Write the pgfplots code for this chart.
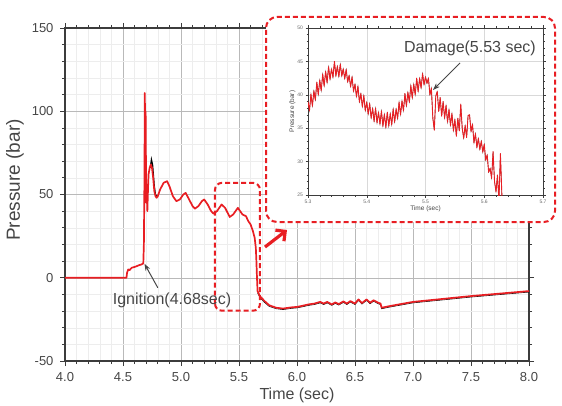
\documentclass[border=0pt]{standalone}
\usepackage{pgfplots}
\pgfplotsset{compat=1.18}
\usepackage{pgfplotstable}
\usepackage{fontspec}
\setmainfont{Liberation Sans}
\usetikzlibrary{arrows.meta}
\definecolor{cred}{RGB}{232,30,35}
\definecolor{ctxt}{RGB}{70,70,70}
\definecolor{caxis}{RGB}{60,60,60}

\pgfplotstableread{
t P
4.000 0
4.530 0
4.535 3
4.545 5
4.555 4.5
4.575 6
4.600 6.5
4.620 7
4.640 7.6
4.660 8
4.675 8.6
4.680 20
4.685 60
4.688 111
4.692 80
4.695 100
4.700 45
4.705 56
4.710 40
4.715 52
4.720 62
4.730 66
4.740 68
4.750 66
4.760 60
4.770 52
4.780 49
4.790 48
4.800 49
4.820 53
4.850 57
4.880 58
4.900 55
4.930 49
4.960 46
4.990 47
5.020 50
5.040 51
5.070 47
5.100 43
5.120 41.5
5.150 43
5.180 46
5.200 47
5.230 44
5.260 40
5.280 38.5
5.310 40
5.350 44
5.380 42
5.420 36.5
5.450 38
5.490 42
5.510 40
5.530 38
5.560 37
5.580 34
5.600 32
5.620 28
5.635 24
5.645 18
5.650 10
5.655 0
5.660 -8
5.680 -11
5.720 -14
5.760 -16.5
5.820 -18
5.880 -18.5
5.950 -17.8
6.000 -17.5
6.050 -16.8
6.100 -16
6.150 -15.5
6.200 -14.5
6.230 -15.5
6.260 -14.5
6.300 -16
6.330 -14.8
6.360 -15.8
6.400 -14.2
6.430 -15.5
6.460 -14
6.500 -15.5
6.530 -13
6.560 -15.2
6.600 -13
6.630 -15
6.660 -13.5
6.700 -15
6.720 -15.5
6.730 -18
6.800 -17
7.000 -14.5
7.500 -11
8.000 -8
}\mainTable

\pgfplotstableread{
t P
4.735 66
4.745 71
4.755 68
4.770 55
4.780 50
4.790 49
}\blackPeak

\pgfplotstableread{
t P
5.660 -9
5.680 -11.8
5.720 -14.8
5.760 -17.2
5.820 -18.6
5.880 -19.1
5.950 -18.4
6.000 -18.1
6.050 -17.4
6.100 -16.6
6.150 -16.1
6.200 -15.1
6.230 -16.1
6.260 -15.1
6.300 -16.6
6.330 -15.4
6.360 -16.4
6.400 -14.8
6.430 -16.1
6.460 -14.6
6.500 -16.1
6.530 -13.6
6.560 -15.8
6.600 -13.6
6.630 -15.6
6.660 -14.1
6.700 -15.6
6.720 -16.1
6.730 -18.6
6.800 -17.6
7.000 -15.1
7.500 -11.6
8.000 -8.6
}\blackTail

\pgfplotstableread{
t P
5.3000 39.0
5.3025 37.6
5.3050 40.1
5.3075 38.3
5.3100 40.6
5.3125 39.2
5.3150 41.9
5.3175 40.0
5.3200 42.2
5.3225 40.6
5.3250 43.1
5.3275 41.3
5.3300 43.5
5.3325 41.8
5.3350 44.2
5.3375 42.3
5.3400 43.9
5.3425 42.6
5.3450 45.0
5.3475 42.8
5.3500 44.3
5.3525 42.7
5.3550 44.6
5.3575 42.8
5.3600 43.9
5.3625 42.4
5.3650 43.8
5.3675 41.9
5.3700 42.9
5.3725 41.2
5.3750 42.7
5.3775 40.5
5.3800 41.6
5.3825 39.7
5.3850 41.3
5.3875 38.9
5.3900 40.2
5.3925 38.2
5.3950 39.9
5.3975 37.6
5.4000 38.9
5.4025 37.1
5.4050 38.7
5.4075 36.5
5.4100 38.0
5.4125 36.0
5.4150 38.0
5.4175 35.8
5.4200 37.4
5.4225 35.6
5.4250 37.6
5.4275 35.3
5.4300 37.1
5.4325 35.1
5.4350 37.4
5.4375 35.3
5.4400 37.2
5.4425 35.5
5.4450 37.9
5.4475 35.9
5.4500 37.9
5.4525 36.4
5.4550 38.9
5.4575 37.0
5.4600 39.1
5.4625 37.6
5.4650 40.2
5.4675 38.3
5.4700 40.4
5.4725 38.9
5.4750 41.4
5.4775 39.5
5.4800 41.6
5.4825 40.0
5.4850 42.5
5.4875 40.5
5.4900 42.5
5.4925 41.0
5.4950 43.2
5.4975 41.5
5.5000 42.7
5.5025 41.7
5.5050 42.5
5.5075 40.0
5.5100 41.0
5.5125 36.5
5.5150 34.7
5.5175 39.8
5.5200 40.5
5.5225 37.5
5.5250 39.6
5.5275 36.8
5.5300 39.0
5.5325 36.5
5.5350 38.4
5.5375 35.9
5.5400 37.8
5.5425 35.4
5.5450 37.2
5.5475 34.6
5.5500 36.3
5.5525 33.8
5.5550 36.5
5.5575 34.6
5.5600 38.6
5.5625 35.0
5.5650 33.5
5.5675 35.4
5.5700 33.6
5.5725 36.9
5.5750 37.0
5.5775 34.5
5.5800 35.6
5.5825 32.8
5.5850 34.2
5.5875 32.1
5.5900 33.5
5.5925 31.8
5.5950 33.1
5.5975 31.4
5.6000 32.6
5.6025 30.2
5.6050 31.0
5.6075 28.4
5.6100 29.0
5.6125 27.5
5.6150 31.5
5.6175 27.0
5.6200 25.5
5.6225 28.0
5.6250 24.0
5.6275 31.2
5.6300 25.0
5.6330 22.0
5.6400 24.5
5.6450 18
}\insetTable

\begin{document}
\begin{tikzpicture}[x=1pt,y=1pt]
\useasboundingbox (0,0) rectangle (562,405);
\begin{axis}[
  at={(65pt,44pt)}, anchor=south west,
  width=464pt, height=333pt, scale only axis,
  xmin=4, xmax=8, ymin=-50, ymax=150,
  xtick={4,4.5,...,8}, ytick={-50,0,50,100,150},
  minor x tick num=4, minor y tick num=4,
  grid=both,
  major grid style={draw=gray!55, line width=0.5pt},
  minor grid style={draw=gray!14, line width=0.4pt},
  axis line style={draw=caxis, line width=1.1pt},
  tick style={draw=caxis, line width=0.8pt},
  major tick length=5pt, minor tick length=3pt,
  tick align=outside,
  xtick pos=both, ytick pos=both,
  /pgf/number format/assume math mode=true,
  xticklabel style={/pgf/number format/.cd, fixed, fixed zerofill, precision=1},
  yticklabel style={/pgf/number format/.cd, fixed, precision=0},
  ticklabel style={font=\fontsize{13}{15}\selectfont, text=ctxt},
  xticklabel shift=3pt, yticklabel shift=3pt,
  clip=true,
]
\addplot[black, line width=0.6pt] table[x=t,y=P] {\blackTail};
\addplot[black, line width=1.2pt] table[x=t,y=P] {\blackPeak};
\addplot[cred, line width=1.7pt, line join=round] table[x=t,y=P] {\mainTable};
\draw[cred, line width=2pt, dash pattern=on 5pt off 3pt, rounded corners=7pt]
  (axis cs:5.293,-19.8) rectangle (axis cs:5.681,57);
\draw[-{Stealth[length=7pt,width=5pt]}, draw=ctxt, line width=1pt]
  (axis cs:4.80,-6) -- (axis cs:4.685,8.4);
\end{axis}
\node[rotate=90, text=ctxt, font=\fontsize{19}{21}\selectfont] at (15,225) {Pressure (bar)};
\node[text=ctxt, font=\fontsize{16}{18}\selectfont] at (297,10) {Time (sec)};
\node[text=ctxt, font=\fontsize{16}{18}\selectfont] at (172,105) {Ignition(4.68sec)};
% inset box
\draw[cred, fill=white, line width=2pt, dash pattern=on 5pt off 3pt, rounded corners=11pt]
  (266,183) rectangle (555,388);
\draw[cred, line width=3.2pt, -{Straight Barb[length=7pt,width=14pt]}] (265,158) -- (287,175);
\begin{axis}[
  at={(308pt,210pt)}, anchor=south west,
  width=235pt, height=167pt, scale only axis,
  xmin=5.3, xmax=5.7, ymin=25, ymax=50,
  xtick={5.3,5.4,5.5,5.6,5.7}, ytick={25,30,...,50},
  minor x tick num=4, minor y tick num=4,
  grid=major,
  major grid style={draw=gray!30, line width=0.4pt},
  axis line style={draw=caxis, line width=0.6pt},
  tick style={draw=caxis, line width=0.4pt},
  major tick length=2.5pt, minor tick length=1.5pt,
  tick align=outside,
  xtick pos=both, ytick pos=both,
  /pgf/number format/assume math mode=true,
  xticklabel style={/pgf/number format/.cd, fixed, fixed zerofill, precision=1},
  ticklabel style={font=\fontsize{5}{6}\selectfont, text=ctxt!80},
  xticklabel shift=-1pt, yticklabel shift=-1pt,
  xlabel={Time (sec)}, ylabel={Pressure (bar)},
  label style={font=\fontsize{6.5}{7.5}\selectfont, text=ctxt},
  xlabel style={yshift=5pt}, ylabel style={yshift=-5pt},
]
\addplot[black!70!cred, line width=0.4pt] table[x=t,y=P] {\insetTable};
\addplot[cred, line width=0.9pt, line join=round] table[x=t,y=P] {\insetTable};
\end{axis}
\node[text=ctxt, font=\fontsize{16}{18}\selectfont] at (470,357) {Damage(5.53 sec)};
\draw[-{Stealth[length=7pt,width=5pt]}, draw=ctxt, line width=1pt] (460,342) -- (433,315);
\end{tikzpicture}
\end{document}
